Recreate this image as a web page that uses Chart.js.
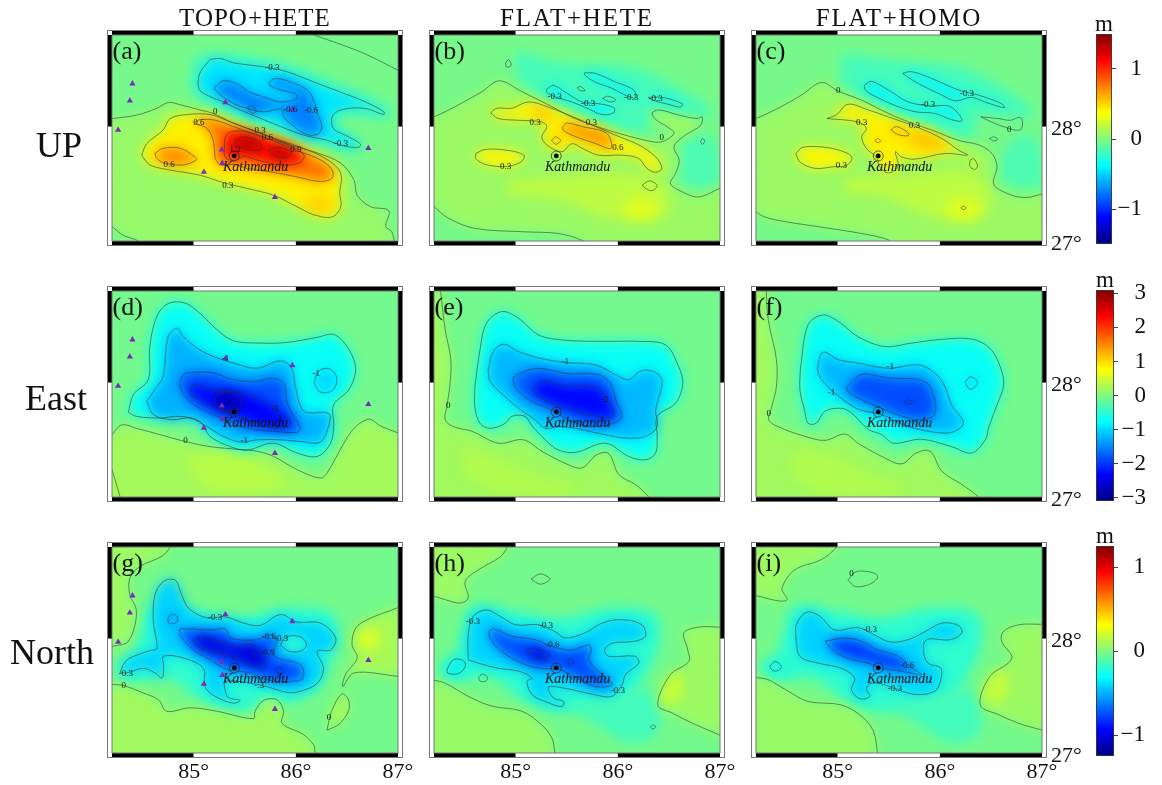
<!DOCTYPE html>
<html><head><meta charset="utf-8">
<style>
html,body{margin:0;padding:0;background:#fff;width:1162px;height:785px;overflow:hidden}
.w{position:absolute}
.t{position:absolute;font-family:"Liberation Serif",serif;color:#111;white-space:nowrap;transform:translate(-50%,-50%)}
</style>
<script src="https://cdn.jsdelivr.net/npm/chart.js@4"></script>
</head><body>
<script>
// ---------- tick labels and shared values ----------
const columnTitles = ['TOPO+HETE','FLAT+HETE','FLAT+HOMO'];
const rowTitles = ['UP','East','North'];
const panelLetters = ['(a)','(b)','(c)','(d)','(e)','(f)','(g)','(h)','(i)'];
const lonTicks = [85,86,87];
const latTicks = [27,28];
const lonRange = [84.2,87];
const latRange = [27,28.8];
const frameLon = [84.2,85,86,87];
const frameLat = [27,28,28.8];
const barRange = [1.5,3.1,1.25];
const barTicks = [[-1,0,1],[-3,-2,-1,0,1,2,3],[-1,0,1]];
const jetStops = ['#00007f','#0000ff','#007fff','#00ffff','#80f880','#ffff00','#ff7f00','#ff0000','#7f0000'];
const kathmandu = [85.397,27.743];
const stations = [84.4,28.375, 84.375,28.225, 84.26,27.97, 85.31,28.21, 85.965,28.15, 86.71,27.81, 85.275,27.797, 85.28,27.68, 85.1,27.603, 85.795,27.383];

// rows: [contour level | null for shading only, shaded value | null for line only, [lon,lat,...]]
const contoursA = [
 [null,-0.15,[85,28.64,85.39,28.64,85.91,28.55,86.44,28.37,86.93,28.16,86.9,28.06,86.44,28.09,86.44,27.97,86.67,27.81,86.34,27.82,85.85,27.94,85.39,28.05,85.06,28.23,84.96,28.35]],
 [0,0.07,[84.15,28.07,84.2,28.07,84.44,28.1,84.64,28.16,84.75,28.21,84.87,28.19,85.06,28.145,85.19,28.115,85.39,28.03,85.62,27.955,85.91,27.85,86.175,27.78,86.44,27.68,86.57,27.53,86.6,27.4,86.73,27.3,86.91,27.265,86.88,27.125,86.94,27.08,86.94,26.95,84.51,26.95,84.46,27,84.31,27.05,84.2,27.125,84.15,27.155]],
 [-0.3,-0.45,[85.16,28.586,85.26,28.595,85.39,28.557,85.7,28.52,85.91,28.48,86.175,28.39,86.44,28.3,86.67,28.22,86.86,28.13,86.86,28.105,86.67,28.16,86.44,28.145,86.355,28.085,86.37,27.98,86.485,27.925,86.63,27.85,86.62,27.82,86.47,27.83,86.305,27.88,86.08,27.925,85.85,28,85.62,28.085,85.455,28.145,85.29,28.215,85.13,28.275,85.05,28.33,85.06,28.465]],
 [-0.6,-0.75,[85.21,28.35,85.29,28.4,85.42,28.375,85.55,28.3,85.7,28.255,85.85,28.215,86.01,28.245,85.995,28.285,85.815,28.33,85.735,28.375,85.8,28.42,85.945,28.39,86.11,28.32,86.175,28.23,86.21,28.115,86.255,28,86.21,27.93,86.08,27.94,85.945,28.03,85.88,28.085,85.865,28.15,85.685,28.13,85.52,28.16,85.36,28.215,85.21,28.32]],
 [-0.9,-1,[85.53,28.167,85.57,28.18,85.61,28.14,85.585,28.115,85.54,28.14]],
 [0.3,0.42,[84.49,27.75,84.54,27.85,84.7,27.97,84.77,28.07,84.93,28.105,85.16,28.105,85.36,28.04,85.55,27.975,85.78,27.9,86.04,27.82,86.31,27.71,86.44,27.59,86.43,27.415,86.44,27.3,86.355,27.21,86.175,27.23,86.01,27.3,85.78,27.4,85.52,27.46,85.29,27.51,85.06,27.575,84.77,27.62,84.57,27.665]],
 [null,0.52,[86.08,27.36,86.24,27.39,86.37,27.32,86.27,27.26,86.13,27.275]],
 [0.6,0.72,[84.62,27.765,84.7,27.81,84.87,27.81,85.01,27.735,85.03,27.71,84.9,27.665,84.72,27.68,84.64,27.72]],
 [0.6,0.78,[85.21,27.72,85.19,27.88,85.13,27.985,85.01,28.03,85.06,28.06,85.21,28.055,85.39,28,85.55,27.945,85.78,27.875,86.01,27.79,86.24,27.71,86.355,27.62,86.355,27.55,86.24,27.52,86.01,27.56,85.75,27.605,85.52,27.635,85.39,27.67,85.26,27.665]],
 [0.9,1.1,[85.3,27.81,85.31,27.91,85.37,27.955,85.52,27.955,85.72,27.9,85.95,27.83,86.08,27.75,86.04,27.685,85.865,27.665,85.65,27.7,85.49,27.74,85.42,27.71,85.34,27.71,85.3,27.75]],
 [1.2,1.35,[85.41,27.875,85.49,27.91,85.62,27.875,85.67,27.81,85.6,27.79,85.49,27.81,85.41,27.82]],
 [1.2,1.35,[85.73,27.79,85.815,27.82,85.95,27.78,85.91,27.73,85.815,27.735]]
];
const linesA = [[86.175,28.8,86.37,28.74,86.665,28.64,87.05,28.47]];
const labelsA = [['-0.3',85.77,28.515],['-0.6',85.945,28.15],['-0.6',86.15,28.14],['-0.3',86.44,27.85],['0',85.21,28.13],['0.6',85.05,28.03],['0.3',85.65,27.965],['0.6',85.72,27.905],['0.9',86,27.8],['1.2',85.405,27.8],['0.6',84.76,27.67],['0.3',85.335,27.485]];

const contoursB = [
 [null,-0.17,[85,28.67,85.485,28.55,86.14,28.52,86.73,28.26,86.92,28.115,86.73,28.06,86.335,28.145,86.27,27.94,85.81,28.03,85.355,28.205,85.03,28.405]],
 [null,-0.15,[86.6,27.85,86.86,27.94,87,27.765,87,27.505,86.63,27.505]],
 [0,0.08,[84.145,28.085,84.2,28.085,84.44,28.19,84.67,28.305,84.84,28.4,85.06,28.305,85.32,28.19,85.58,28.07,85.845,27.985,86.07,27.925,86.27,27.88,86.42,27.865,86.55,27.94,86.48,28,86.38,28.055,86.335,28.115,86.4,28.145,86.6,28.1,86.775,28.07,86.825,28.085,86.81,28.01,86.66,27.925,86.55,27.825,86.6,27.705,86.565,27.59,86.515,27.5,86.63,27.43,86.79,27.385,87,27.46,87.07,27.48,87.07,26.95,85.71,26.95,85.665,27,85.42,27.065,85.09,27.08,84.6,27.11,84.34,27.2,84.2,27.3,84.145,27.335]],
 [null,0.18,[84.93,27.53,85.42,27.56,86.14,27.59,86.47,27.475,86.47,27.21,85.975,27.18,85.42,27.36,84.93,27.415]],
 [null,0.28,[86.04,27.3,86.205,27.385,86.4,27.315,86.335,27.21,86.105,27.21]],
 [-0.3,-0.4,[85.675,28.47,85.78,28.465,85.975,28.39,86.155,28.32,86.17,28.25,86.07,28.275,85.94,28.335,85.775,28.39,85.675,28.45]],
 [-0.3,-0.4,[85.305,28.33,85.37,28.36,85.485,28.3,85.65,28.215,85.81,28.2,85.96,28.165,85.96,28.12,85.845,28.105,85.71,28.155,85.55,28.215,85.385,28.26,85.305,28.3]],
 [-0.3,-0.4,[86.3,28.255,86.435,28.255,86.63,28.2,86.615,28.17,86.47,28.2,86.34,28.23]],
 [0.3,0.42,[84.755,28.12,84.815,28.16,84.96,28.16,85.125,28.215,85.32,28.17,85.52,28.1,85.745,28.015,85.975,27.925,86.205,27.84,86.37,27.735,86.43,27.635,86.37,27.6,86.285,27.635,86.205,27.72,86.04,27.75,85.81,27.75,85.65,27.81,85.55,27.85,85.45,27.78,85.305,27.84,85.255,27.91,85.305,28,85.255,28.04,85.03,28.055,84.83,28.07]],
 [0.3,0.4,[84.61,27.765,84.7,27.8,84.9,27.795,85.08,27.75,85.05,27.69,84.9,27.65,84.7,27.67,84.61,27.72]],
 [null,0.54,[85.16,28.165,85.29,28.16,85.37,28.085,85.24,28.07]],
 [0.6,0.7,[85.46,28,85.5,28.03,85.65,28,85.89,27.94,85.935,27.81,85.77,27.855,85.55,27.925,85.465,27.97]],
 [0.6,0.6,[85.35,27.88,85.39,27.91,85.44,27.88,85.395,27.845]],
 [0,null,[84.9,28.55,84.93,28.585,84.955,28.535,84.91,28.52]],
 [0,null,[85.6,28.34,85.63,28.35,85.68,28.315,85.63,28.315]],
 [0,null,[85.85,28.245,85.9,28.265,85.98,28.235,85.93,28.215]],
 [0,null,[86.81,27.87,86.83,27.895,86.85,27.87,86.825,27.845]],
 [0,null,[86.24,27.49,86.31,27.525,86.385,27.485,86.335,27.44,86.27,27.46]]
];
const linesB = [];
const labelsB = [['-0.3',85.38,28.265],['-0.3',85.71,28.2],['-0.3',86.13,28.255],['-0.3',86.37,28.24],['0.3',85.19,28.03],['0.3',85.74,28.03],['0.6',86,27.82],['0',86.43,27.905],['0.3',84.9,27.65]];

const contoursC = [
 [null,-0.17,[85.04,28.64,85.56,28.58,86.215,28.52,86.705,28.29,86.935,28.115,86.705,28.085,86.38,28.1,86.31,27.88,85.79,27.995,85.33,28.17,85.04,28.375]],
 [null,-0.15,[86.6,27.765,86.835,27.94,87,27.765,87,27.475,86.6,27.53]],
 [0,0.08,[84.155,28.07,84.2,28.07,84.415,28.16,84.645,28.275,84.84,28.385,85.005,28.31,85.235,28.23,85.495,28.115,85.725,28.03,85.92,27.97,86.18,27.88,86.38,27.84,86.51,27.765,86.56,27.65,86.525,27.53,86.54,27.475,86.705,27.4,86.85,27.38,87,27.41,87.05,27.42,87.05,26.95,85.545,26.95,85.495,27.01,85.235,27.065,84.81,27.125,84.48,27.17,84.285,27.21,84.2,27.255,84.15,27.285]],
 [null,0.18,[85.07,27.56,85.56,27.56,86.18,27.62,86.475,27.475,86.44,27.21,86.02,27.18,85.46,27.385,85.07,27.44]],
 [null,0.28,[86.05,27.315,86.215,27.385,86.41,27.3,86.345,27.21,86.115,27.21]],
 [-0.3,-0.4,[85.635,28.465,85.72,28.48,85.92,28.42,86.18,28.32,86.375,28.275,86.605,28.2,86.63,28.165,86.44,28.215,86.31,28.255,86.15,28.225,86.02,28.275,85.79,28.375,85.69,28.43]],
 [-0.3,-0.4,[85.26,28.36,85.33,28.395,85.495,28.32,85.69,28.215,85.92,28.18,86.085,28.18,86.18,28.115,86.215,28.05,86.115,28.06,85.95,28.115,85.755,28.13,85.56,28.185,85.365,28.265,85.27,28.32]],
 [0.3,0.42,[84.895,28.07,84.99,28.105,85.1,28.195,85.3,28.145,85.495,28.085,85.79,27.99,86.02,27.895,86.18,27.795,86.27,27.75,86.05,27.765,85.755,27.715,85.625,27.735,85.565,27.78,85.59,27.65,85.495,27.595,85.41,27.65,85.38,27.73,85.28,27.81,85.235,27.91,85.28,27.985,85.2,28.04]],
 [0.3,0.4,[84.59,27.765,84.66,27.82,84.905,27.815,85.1,27.765,85.14,27.72,85.085,27.66,84.97,27.65,84.775,27.635,84.63,27.69]],
 [null,0.54,[85.72,27.97,85.92,27.94,86.08,27.825,85.85,27.795,85.69,27.88]],
 [0.3,0.34,[86.295,27.705,86.33,27.72,86.37,27.655,86.34,27.625,86.295,27.65]],
 [0.3,null,[86.205,27.29,86.23,27.305,86.255,27.29,86.23,27.275]],
 [0.6,0.6,[85.52,27.97,85.575,28,85.69,27.945,85.69,27.92,85.59,27.93]],
 [0.6,0.58,[85.365,27.875,85.39,27.895,85.42,27.875,85.39,27.86]],
 [0,null,[86.4,28.085,86.57,28.07,86.69,28.055,86.785,28.08,86.81,28.03,86.785,27.97,86.67,27.985,86.505,28.04]],
 [0,null,[86.485,27.895,86.525,27.91,86.565,27.89,86.525,27.875]]
];
const linesC = [];
const labelsC = [['0',85.005,28.31],['-0.3',86.265,28.29],['-0.3',85.885,28.19],['0.3',85.235,28.03],['0.3',85.75,28.01],['0',86.68,27.975],['0.3',85.035,27.66]];

const contoursD = [
 [0,0.22,[84.15,27.5,84.2,27.545,84.295,27.63,84.44,27.6,84.67,27.545,84.915,27.485,85.16,27.44,85.455,27.415,85.62,27.4,85.78,27.355,86.01,27.24,86.24,27.165,86.305,27.21,86.47,27.47,86.57,27.6,86.715,27.68,86.83,27.62,87,27.56,87.04,27.545,87.04,26.95,84.15,26.95]],
 [null,0.34,[84.9,27.36,85.3,27.38,85.6,27.3,85.9,27.12,85.5,27.04,85.1,27.1]],
 [-0.5,-0.72,[84.36,27.74,84.41,27.895,84.555,28.025,84.57,28.315,84.64,28.58,84.75,28.69,84.915,28.695,85.06,28.605,85.23,28.46,85.39,28.365,85.65,28.345,85.91,28.35,86.21,28.395,86.37,28.42,86.5,28.315,86.585,28.125,86.52,27.94,86.37,27.805,86.37,27.62,86.34,27.47,86.21,27.355,86.01,27.385,85.78,27.47,85.52,27.41,85.36,27.44,85.16,27.53,85.06,27.66,84.87,27.705,84.67,27.69,84.44,27.705]],
 [-1,-1.25,[84.54,27.835,84.64,27.965,84.7,28.05,84.75,28.4,84.835,28.475,84.9,28.4,85.06,28.285,85.26,28.205,85.39,28.17,85.62,28.125,85.85,28.19,85.96,28.125,85.995,27.965,86.08,27.75,86.32,27.73,86.32,27.62,86.24,27.48,86.045,27.485,85.85,27.5,85.62,27.5,85.455,27.48,85.29,27.53,85.13,27.615,84.965,27.69,84.785,27.675,84.605,27.72]],
 [-1,-1,[86.18,27.995,86.22,28.1,86.335,28.12,86.4,28.04,86.37,27.94,86.27,27.91,86.21,27.94]],
 [-1.5,-1.85,[84.86,27.98,84.9,28.07,85.03,28.09,85.19,28.085,85.39,28.025,85.62,28.01,85.765,28.04,85.88,27.995,85.915,27.82,85.98,27.705,86.045,27.6,86.01,27.565,85.78,27.575,85.52,27.6,85.39,27.645,85.23,27.705,85.03,27.79,84.9,27.895]],
 [-2,-2.35,[84.97,27.95,85.01,27.98,85.19,27.935,85.39,27.92,85.62,27.865,85.78,27.79,85.945,27.66,85.91,27.61,85.72,27.615,85.52,27.675,85.39,27.72,85.19,27.78,85.03,27.865,84.97,27.905]],
 [-2.5,-2.8,[85.2,27.835,85.24,27.9,85.335,27.915,85.455,27.865,85.47,27.805,85.375,27.755,85.26,27.775]]
];
const linesD = [[84.2,27.24,84.28,27]];
const labelsD = [['-1',85.31,28.205],['-1',86.2,28.075],['-2',85.795,27.77],['-1',85.495,27.495],['0',84.92,27.49]];

const contoursE = [
 [0,0.2,[84.265,28.84,84.265,28.8,84.31,28.46,84.365,28.2,84.355,27.965,84.325,27.79,84.31,27.675,84.39,27.615,84.57,27.575,84.83,27.47,85.075,27.5,85.255,27.4,85.52,27.28,85.65,27.255,85.795,27.37,85.91,27.38,86.01,27.195,86.17,27.11,86.305,27,86.34,26.94,84.145,26.94,84.145,28.84]],
 [null,0.3,[84.5,27.45,84.9,27.3,85.3,27.15,85.6,27.1,85.5,27.02,84.9,27.02,84.5,27.2]],
 [-0.5,-0.72,[84.6,27.965,84.65,28.285,84.715,28.52,84.865,28.62,85.03,28.56,85.225,28.415,85.485,28.37,85.88,28.36,86.205,28.36,86.465,28.33,86.58,28.17,86.635,27.995,86.565,27.82,86.385,27.705,86.385,27.53,86.37,27.385,86.27,27.325,86.105,27.355,85.88,27.47,85.585,27.39,85.42,27.41,85.29,27.5,85.16,27.62,85.09,27.705,84.96,27.705,84.9,27.645,84.75,27.6,84.65,27.645,84.6,27.79]],
 [-1,-1.2,[84.73,28.11,84.78,28.27,84.88,28.335,85.03,28.27,85.225,28.215,85.485,28.175,85.78,28.155,85.975,28.07,86.105,28.025,86.235,28.105,86.385,28.08,86.435,27.995,86.37,27.76,86.385,27.615,86.27,27.53,86.075,27.515,85.845,27.55,85.585,27.6,85.42,27.615,85.29,27.6,85.19,27.675,85.09,27.735,84.93,27.85,84.75,28.01]],
 [-1.5,-1.8,[84.97,28.04,85.04,28.08,85.225,28.125,85.485,28.08,85.81,28.07,85.925,27.995,85.99,27.82,86.04,27.705,85.96,27.645,85.745,27.615,85.55,27.66,85.32,27.775,85.125,27.85,85,27.95]],
 [-2,-2.3,[85.175,27.96,85.255,28.015,85.485,27.97,85.78,27.96,85.88,27.88,85.96,27.7,85.81,27.7,85.585,27.75,85.385,27.805,85.255,27.865,85.17,27.92]]
];
const linesE = [];
const labelsE = [['0',84.34,27.8],['-1',85.485,28.18],['-2',85.87,27.855]];

const contoursF = [
 [0,0.2,[84.3,28.84,84.3,28.8,84.32,28.55,84.4,28.2,84.4,27.965,84.355,27.79,84.325,27.675,84.415,27.615,84.68,27.53,84.875,27.495,85.07,27.55,85.2,27.47,85.43,27.355,85.625,27.29,85.77,27.385,85.905,27.4,86.02,27.225,86.215,27.11,86.38,27,86.43,26.94,84.14,26.94,84.14,28.84]],
 [null,0.3,[84.6,27.42,85,27.34,85.4,27.15,85.65,27.1,85.5,27.02,84.9,27.02,84.55,27.2]],
 [-0.5,-0.72,[84.635,28.125,84.71,28.505,84.855,28.59,85.005,28.535,85.2,28.4,85.46,28.315,85.725,28.345,85.985,28.375,86.31,28.38,86.49,28.3,86.59,28.14,86.625,27.98,86.56,27.805,86.48,27.615,86.445,27.5,86.31,27.385,86.115,27.44,85.82,27.505,85.545,27.47,85.43,27.545,85.3,27.59,85.135,27.735,85.035,27.775,84.875,27.75,84.79,27.645,84.71,27.645,84.675,27.76,84.63,27.935]],
 [-1,-1.2,[84.8,28.125,84.855,28.265,85.005,28.2,85.2,28.17,85.495,28.125,85.79,28.155,85.955,28.08,86.05,27.965,86.115,27.805,86.23,27.645,86.115,27.565,85.92,27.57,85.66,27.625,85.43,27.72,85.27,27.75,85.17,27.78,84.97,27.91,84.83,28.04]],
 [-1,-1,[86.245,28,86.3,28.05,86.37,28,86.3,27.94]],
 [-1.5,-1.85,[85.085,27.96,85.235,28.07,85.495,28.04,85.79,28.025,85.905,27.965,85.955,27.735,85.825,27.675,85.63,27.705,85.43,27.775,85.235,27.85,85.1,27.92]],
 [-2,-2.1,[85.65,27.835,85.69,27.85,85.735,27.825,85.69,27.81]]
];
const linesF = [];
const labelsF = [['0',84.325,27.73],['-1',85.515,28.14],['-1',84.94,27.915]];

const contoursG = [
 [null,-0.2,[84.47,28.06,84.57,28.28,84.96,28.25,85.42,28.18,85.94,28.27,86.37,28.21,86.4,27.945,86.27,27.68,86.14,27.51,85.45,27.36,85.09,27.45,84.76,27.655,84.33,27.62,84.26,27.79,84.39,27.85]],
 [0,0.07,[84.785,28.85,84.77,28.8,84.69,28.72,84.475,28.63,84.375,28.53,84.375,28.38,84.435,28.265,84.425,28.12,84.36,27.975,84.28,27.945,84.15,27.95,84.15,28.85]],
 [0,0.08,[84.15,27.61,84.2,27.6,84.31,27.59,84.505,27.525,84.655,27.465,84.735,27.365,84.965,27.395,85.225,27.365,85.585,27.3,85.6,27.365,85.685,27.46,85.815,27.465,85.88,27.365,85.865,27.26,86.075,27.16,86.175,27.07,86.19,27,86.21,26.95,84.15,26.95]],
 [0,0.1,[87.04,28.28,87,28.27,86.7,28.165,86.585,28.09,86.55,27.945,86.6,27.83,86.485,27.685,86.46,27.58,86.57,27.7,87,27.67,87.04,27.665]],
 [null,0.22,[86.62,28.06,86.77,28.09,86.82,27.975,86.7,27.89,86.62,27.945]],
 [0,0.1,[86.305,27.2,86.35,27.365,86.45,27.515,86.515,27.465,86.515,27.365,86.42,27.25]],
 [-0.3,-0.42,[84.28,27.705,84.32,27.785,84.375,27.83,84.57,27.895,84.64,27.915,84.605,28.15,84.62,28.38,84.705,28.5,84.82,28.51,84.87,28.41,84.95,28.265,85.13,28.18,85.31,28.19,85.49,28.135,85.65,28.115,85.85,28.21,86.01,28.145,86.24,28.135,86.39,28.005,86.34,27.9,86.21,27.89,86.27,27.74,86.21,27.61,86.045,27.54,85.915,27.53,85.715,27.58,85.555,27.61,85.31,27.625,85.31,27.54,85.34,27.485,85.455,27.46,85.39,27.435,85.21,27.495,85.11,27.58,85.095,27.74,84.9,27.83,84.705,27.845,84.705,27.755,84.69,27.655,84.62,27.7,84.505,27.74,84.345,27.7]],
 [-0.3,-0.2,[85.85,27.945,85.9,28.015,86.045,28.015,86.105,27.945,86.045,27.89,85.93,27.89]],
 [-0.6,-0.62,[84.75,28.18,84.79,28.215,84.845,28.18,84.82,28.135,84.755,28.135]],
 [-0.6,-0.75,[84.865,28.085,84.965,28.085,85.195,28.075,85.31,28.085,85.36,28.005,85.62,27.99,85.75,28.035,85.815,27.975,85.78,27.875,85.815,27.83,86.045,27.77,86.07,27.655,85.945,27.625,85.715,27.64,85.555,27.7,85.325,27.73,85.16,27.815,85,27.9,84.865,28.03]],
 [-0.9,-1.02,[84.99,27.98,85.09,28.025,85.255,27.975,85.415,27.93,85.58,27.945,85.695,27.83,85.68,27.74,85.515,27.785,85.355,27.845,85.16,27.89,85.03,27.94]],
 [-0.9,-1.1,[85.565,27.86,85.595,27.875,85.62,27.85,85.59,27.83]],
 [-0.9,-0.95,[85.79,27.73,85.84,27.75,85.88,27.715,85.84,27.685]]
];
const linesG = [];
const labelsG = [['-0.3',85.21,28.185],['-0.6',85.735,28.02],['-0.3',85.855,28],['-0.9',85.72,27.88],['-0.3',84.335,27.69],['0',84.315,27.585],['-.3',85.64,27.59],['0',86.325,27.305]];

const contoursH = [
 [null,-0.2,[84.47,28.06,84.57,28.28,84.96,28.25,85.42,28.18,85.94,28.27,86.37,28.21,86.4,27.945,86.27,27.68,86.14,27.51,85.45,27.36,85.09,27.45,84.76,27.655,84.33,27.62,84.26,27.79,84.39,27.85]],
 [null,-0.15,[85.485,27.42,86.075,27.54,86.37,27.51,86.37,27.16,86.075,27.1,85.745,27.28]],
 [0,0.07,[84.945,28.85,84.92,28.8,84.85,28.715,84.635,28.6,84.505,28.5,84.535,28.355,84.455,28.31,84.31,28.34,84.2,28.37,84.145,28.38,84.145,28.85]],
 [0,0.06,[84.145,27.64,84.2,27.635,84.31,27.61,84.535,27.495,84.765,27.41,85.06,27.365,85.255,27.245,85.355,27.13,85.385,27,85.405,26.95,84.145,26.95]],
 [0,0.07,[87.05,28.1,87,28.1,86.79,28.1,86.645,28.05,86.68,27.915,86.695,27.8,86.515,27.685,86.39,27.42,86.53,27.35,86.73,27.26,87,27.155,87.05,27.13]],
 [null,0.18,[86.5,27.66,86.62,27.7,86.62,27.5,86.5,27.42,86.43,27.5]],
 [-0.3,-0.42,[84.535,27.815,84.535,28.035,84.585,28.195,84.715,28.25,84.845,28.195,85,28.12,85.225,28.12,85.385,28.06,85.485,28.005,85.68,28.05,85.845,28.135,86.04,28.165,86.235,28.12,86.27,28.02,86.155,27.975,85.945,27.96,85.87,27.9,85.91,27.845,86.17,27.845,86.205,27.785,86.075,27.685,86.04,27.595,85.94,27.495,85.745,27.515,85.485,27.565,85.32,27.575,85.37,27.48,85.47,27.45,85.45,27.405,85.29,27.45,85.16,27.51,85.11,27.625,85.16,27.655,85.03,27.715,84.83,27.74,84.635,27.785]],
 [-0.3,-0.36,[84.325,27.725,84.39,27.815,84.49,27.805,84.505,27.755,84.44,27.695,84.34,27.695]],
 [-0.6,-0.75,[84.735,28.06,84.785,28.085,84.965,28.02,85.19,27.99,85.355,27.93,85.55,27.9,85.715,27.945,85.74,27.9,85.715,27.815,85.81,27.715,85.945,27.6,85.78,27.58,85.585,27.66,85.42,27.73,85.225,27.74,85.06,27.785,84.865,27.885,84.75,28]],
 [-0.9,-1.02,[85.1,27.9,85.16,27.915,85.305,27.88,85.32,27.83,85.24,27.815,85.14,27.86]],
 [-0.9,-0.95,[85.5,27.8,85.535,27.82,85.565,27.79,85.535,27.77]],
 [0,null,[85.15,28.52,85.24,28.565,85.335,28.52,85.24,28.475]],
 [0,null,[86.32,27.23,86.34,27.245,86.37,27.23,86.34,27.21]],
 [-0.3,null,[84.635,27.66,84.675,27.69,84.725,27.66,84.7,27.625,84.65,27.63]]
];
const linesH = [];
const labelsH = [['-0.3',84.58,28.15],['-0.3',85.295,28.11],['-0.6',85.36,27.945],['-0.3',86,27.545]];

const contoursI = [
 [null,-0.2,[84.47,28.06,84.57,28.28,84.96,28.25,85.42,28.18,85.94,28.27,86.37,28.21,86.4,27.945,86.27,27.68,86.14,27.51,85.45,27.36,85.09,27.45,84.76,27.655,84.33,27.62,84.26,27.79,84.39,27.85]],
 [null,-0.15,[85.485,27.42,86.075,27.54,86.37,27.51,86.37,27.16,86.075,27.1,85.745,27.28]],
 [0,0.07,[85.005,28.85,84.99,28.8,84.84,28.69,84.58,28.6,84.455,28.44,84.505,28.34,84.415,28.33,84.2,28.375,84.15,28.38,84.15,28.85]],
 [0,0.06,[84.15,27.67,84.2,27.66,84.32,27.64,84.515,27.54,84.71,27.45,85.035,27.42,85.235,27.32,85.35,27.19,85.39,27,85.4,26.95,84.15,26.95]],
 [0,0.07,[87.05,28.125,87,28.125,86.77,28.12,86.62,28.06,86.605,27.975,86.705,27.845,86.67,27.785,86.49,27.67,86.395,27.42,86.575,27.335,86.77,27.26,87,27.2,87.05,27.19]],
 [null,0.17,[86.5,27.68,86.65,27.72,86.65,27.5,86.5,27.43,86.43,27.52]],
 [-0.3,-0.42,[84.59,28.005,84.595,28.12,84.695,28.23,84.825,28.195,84.97,28.075,85.2,28.095,85.365,28.03,85.51,27.97,85.69,27.99,85.855,28.06,86.02,28.135,86.18,28.115,86.215,28.05,86.1,27.99,85.87,27.99,85.84,27.885,85.885,27.785,86.01,27.74,86,27.61,85.95,27.54,85.79,27.51,85.625,27.54,85.46,27.595,85.33,27.61,85.28,27.56,85.315,27.495,85.215,27.475,85.135,27.55,85.165,27.655,85.035,27.74,84.81,27.785,84.63,27.845]],
 [-0.3,-0.34,[84.335,27.755,84.385,27.8,84.45,27.755,84.415,27.72,84.365,27.72]],
 [-0.6,-0.8,[84.875,27.975,85.07,28.005,85.235,27.975,85.395,27.9,85.595,27.845,85.705,27.755,85.82,27.685,85.625,27.715,85.43,27.74,85.3,27.785,85.135,27.815,84.97,27.885]],
 [0,null,[85.1,28.51,85.18,28.585,85.365,28.57,85.39,28.53,85.3,28.47,85.17,28.455]]
];
const linesI = [];
const labelsI = [['0',85.135,28.57],['-0.3',85.315,28.08],['-0.6',85.68,27.765],['-0.3',85.56,27.56]];

const panelData = [
 [contoursA,linesA,labelsA,-0.03,0],[contoursB,linesB,labelsB,-0.03,0],[contoursC,linesC,labelsC,-0.03,0],
 [contoursD,linesD,labelsD,-0.08,1],[contoursE,linesE,labelsE,-0.08,1],[contoursF,linesF,labelsF,-0.08,1],
 [contoursG,linesG,labelsG,-0.03,2],[contoursH,linesH,labelsH,-0.03,2],[contoursI,linesI,labelsI,-0.03,2]
];

// ---------- layout and style ----------
const colLeft=[112,434,756], rowTop=[35,291,547], plotW=286, plotH=206;
const mL=30,mT=14,mB=40,mRplain=30,mRaxis=52;
const serif='"Liberation Serif","Times New Roman",serif';
const barBox=[[34,210,16,48],[290,211,18,52],[546,210,18,51]];

function hexRGB(h){return [1,3,5].map(i=>parseInt(h.substr(i,2),16));}
function jet(p){
  p=Math.max(0,Math.min(1,p))*(jetStops.length-1);
  const i=Math.min(jetStops.length-2,Math.floor(p)),f=p-i,a=hexRGB(jetStops[i]),b=hexRGB(jetStops[i+1]);
  return `rgb(${a.map((c,k)=>Math.round(c+(b[k]-c)*f)).join(',')})`;
}
const pairs=a=>{const o=[];for(let i=0;i<a.length;i+=2)o.push({x:a[i],y:a[i+1]});return o;};

// run before the Filler plugin so a soft layer's fill is blurred
const softLayer={id:'softLayer',
  beforeDatasetDraw(c,a){if(c.data.datasets[a.index].soft)c.ctx.filter='blur(6px)';},
  afterDatasetDraw(c){c.ctx.filter='none';}};
const fillerPlugin=Chart.registry.getPlugin('filler');
Chart.unregister(fillerPlugin);
Chart.register(softLayer,fillerPlugin);

const framePlugin={id:'mapFrame',afterDraw(c,_,o){
  const g=c.ctx,A=c.chartArea,X=c.scales.x,Y=c.scales.y,b=4.5;
  const bar=(x,y,w,h,k)=>{g.fillStyle=k?'#000':'#fff';g.fillRect(x,y,w,h);};
  g.save();
  for(let i=0;i<3;i++){const x0=X.getPixelForValue(frameLon[i]),x1=X.getPixelForValue(frameLon[i+1]);
    bar(x0,A.top-b,x1-x0,b,i!==1);bar(x0,A.bottom,x1-x0,b,i!==1);}
  for(let i=0;i<2;i++){const y0=Y.getPixelForValue(frameLat[i+1]),y1=Y.getPixelForValue(frameLat[i]);
    bar(A.left-b,y0,b,y1-y0,i===1);bar(A.right,y0,b,y1-y0,i===1);}
  g.fillStyle='#fff';[[A.left-b,A.top-b],[A.right,A.top-b],[A.left-b,A.bottom],[A.right,A.bottom]].forEach(p=>g.fillRect(p[0],p[1],b,b));
  g.strokeStyle='#777';g.lineWidth=1;
  g.strokeRect(A.left-b,A.top-b,A.right-A.left+2*b,A.bottom-A.top+2*b);
  g.strokeRect(A.left,A.top,A.right-A.left,A.bottom-A.top);
  // contour labels
  g.fillStyle='#1a1a1a';g.font=`9px ${serif}`;g.textAlign='center';g.textBaseline='middle';
  o.labels.forEach(l=>g.fillText(l[0],X.getPixelForValue(l[1]),Y.getPixelForValue(l[2])));
  // place name and panel letter
  g.fillStyle='#111';g.font=`italic 14px ${serif}`;
  g.fillText('Kathmandu',X.getPixelForValue(85.606),Y.getPixelForValue(27.643));
  g.textAlign='left';g.font=`26px ${serif}`;
  g.fillText(o.letter,A.left+0.5,A.top+17);
  g.restore();
}};

panelData.forEach((p,idx)=>{
  const [rows,lines,labels,base,band]=p;
  const col=idx%3,row=Math.floor(idx/3),vmax=barRange[band];
  const right=col===2,bottom=row===2,mR=right?mRaxis:mRplain;
  const color=v=>jet(0.5+v/(2*vmax));
  const ds=[];
  ds.push({data:pairs([83.5,26.5,87.8,26.5,87.8,29.4,83.5,29.4,83.5,26.5]),showLine:true,fill:'shape',backgroundColor:color(base),borderWidth:0,pointRadius:0,tension:0});
  rows.filter(r=>r[1]!==null).forEach(r=>ds.push({data:pairs(r[2].concat(r[2][0],r[2][1])),showLine:true,fill:'shape',soft:true,backgroundColor:color(r[1]),borderWidth:0,pointRadius:0,tension:0.35}));
  const lineStyle={showLine:true,fill:false,borderColor:'rgba(45,50,55,0.7)',borderWidth:0.8,pointRadius:0,tension:0.35};
  rows.filter(r=>r[0]!==null).forEach(r=>ds.push({data:pairs(r[2].concat(r[2][0],r[2][1])),...lineStyle}));
  lines.forEach(l=>ds.push({data:pairs(l),...lineStyle}));
  if(col===0)ds.push({data:pairs(stations),pointStyle:'triangle',pointRadius:3.6,backgroundColor:'#7a2cb8',borderWidth:0,showLine:false});
  ds.push({data:pairs(kathmandu),pointStyle:'circle',pointRadius:5,backgroundColor:'rgba(0,0,0,0)',borderColor:'#222',borderWidth:0.7,showLine:false});
  ds.push({data:pairs(kathmandu),pointStyle:'circle',pointRadius:2.4,backgroundColor:'#000',borderWidth:0,showLine:false});
  ds.forEach((d,i)=>d.order=ds.length-i);

  const wrap=document.createElement('div');wrap.className='w';
  wrap.style.left=(colLeft[col]-mL)+'px';wrap.style.top=(rowTop[row]-mT)+'px';
  const cv=document.createElement('canvas');cv.width=mL+plotW+mR;cv.height=mT+plotH+mB;
  cv.style.width=cv.width+'px';cv.style.height=cv.height+'px';cv.style.display='block';
  wrap.appendChild(cv);document.body.appendChild(wrap);
  new Chart(cv,{type:'scatter',data:{datasets:ds},plugins:[framePlugin],options:{
    responsive:false,animation:false,events:[],
    layout:{padding:{left:mL,top:mT,right:right?0:mR,bottom:bottom?8:mB}},
    plugins:{legend:{display:false},tooltip:{enabled:false},title:{display:false},mapFrame:{labels,letter:panelLetters[idx]}},
    scales:{
      x:{type:'linear',min:lonRange[0],max:lonRange[1],display:bottom,
        grid:{display:false,drawTicks:false},border:{display:false},
        afterBuildTicks:s=>{s.ticks=lonTicks.map(v=>({value:v}));},
        afterFit:s=>{s.height=bottom?mB-8:0;s.paddingLeft=0;s.paddingRight=0;},
        ticks:{padding:6,maxRotation:0,autoSkip:false,color:'#111',font:{family:serif,size:22},callback:v=>v+'°'}},
      y:{type:'linear',position:'right',min:latRange[0],max:latRange[1],display:right,
        grid:{display:false,drawTicks:false},border:{display:false},
        afterBuildTicks:s=>{s.ticks=latTicks.map(v=>({value:v}));},
        afterFit:s=>{s.width=right?mR:0;s.paddingTop=0;s.paddingBottom=0;},
        ticks:{padding:9,labelOffset:3,autoSkip:false,color:'#111',font:{family:serif,size:22},callback:v=>v+'°'}}
    }}});
});

// ---------- colour bars ----------
const barTitle={id:'barTitle',afterDraw(c){
  const g=c.ctx,A=c.chartArea;g.save();g.fillStyle='#111';g.font=`23px ${serif}`;g.textAlign='center';g.textBaseline='alphabetic';
  g.fillText('m',(A.left+A.right)/2,A.top-3);g.restore();}};
barRange.forEach((vmax,i)=>{
  const [top,h,w,cw]=barBox[i],left=1096,padL=2,padT=26;
  const wrap=document.createElement('div');wrap.className='w';
  wrap.style.left=(left-padL)+'px';wrap.style.top=(top-padT)+'px';
  const cv=document.createElement('canvas');cv.width=cw;cv.height=padT+h+14;
  cv.style.width=cw+'px';cv.style.height=cv.height+'px';cv.style.display='block';
  wrap.appendChild(cv);document.body.appendChild(wrap);
  new Chart(cv,{type:'bar',plugins:[barTitle],
    data:{labels:['m'],datasets:[{data:[[-vmax,vmax]],barPercentage:1,categoryPercentage:1,borderColor:'#3a3a3a',borderWidth:1.2,borderSkipped:false,
      backgroundColor:ctx=>{const A=ctx.chart.chartArea;if(!A)return '#80f880';
        const gr=ctx.chart.ctx.createLinearGradient(0,A.bottom,0,A.top);
        jetStops.forEach((s,k)=>gr.addColorStop(k/(jetStops.length-1),s));return gr;}}]},
    options:{responsive:false,animation:false,events:[],
      layout:{padding:{left:padL,top:padT,right:0,bottom:14}},
      plugins:{legend:{display:false},tooltip:{enabled:false}},
      scales:{
        x:{display:false,afterFit:s=>{s.height=0;}},
        y:{type:'linear',position:'right',min:-vmax,max:vmax,
          grid:{drawOnChartArea:false,drawTicks:true,tickLength:4,color:'#444'},border:{display:false},
          afterBuildTicks:s=>{s.ticks=barTicks[i].map(v=>({value:v}));},
          afterFit:s=>{s.width=cw-padL-w;s.paddingTop=0;s.paddingBottom=0;},
          ticks:{padding:3,crossAlign:'far',autoSkip:false,color:'#111',font:{family:serif,size:23},callback:v=>v<0?'−'+(-v):''+v}}
      }}});
});

// ---------- page titles ----------
function text(s,x,y,size,ls){const d=document.createElement('div');d.className='t';d.textContent=s;d.style.left=x+'px';d.style.top=y+'px';d.style.fontSize=size+'px';if(ls)d.style.letterSpacing=ls+'px';document.body.appendChild(d);}
[[255,18,1],[577,18,1.8],[899,18,1.8]].forEach((p,i)=>text(columnTitles[i],p[0],p[1],25,p[2]));
[[59,145],[56,398],[52,652]].forEach((p,i)=>text(rowTitles[i],p[0],p[1],36));
</script>
</body></html>
